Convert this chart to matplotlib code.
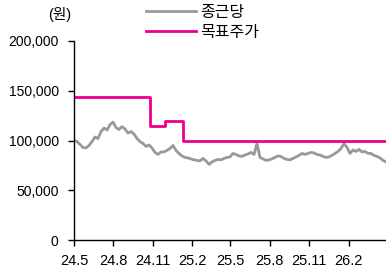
import pandas as pd
import matplotlib.pyplot as plt
import matplotlib.ticker as mticker

plt.rcParams['font.family'] = ['Liberation Sans', 'Noto Sans CJK KR', 'DejaVu Sans']

# --- data (weekly closes, in won) ---
dates = pd.date_range('2024-05-01', periods=105, freq='7D')
price = [
    100000, 99000, 96000, 93000, 92500, 95000, 99000, 103500, 102000, 109000,
    112500, 110500, 116000, 118500, 113000, 111000, 114000, 111500, 107500, 109000,
    106500, 102000, 99000, 97000, 94000, 95500, 92500, 88000, 86000, 88500,
    88500, 90000, 92000, 95000, 90000, 87000, 84500, 83000, 82500, 81500,
    80500, 80000, 79500, 82000, 79500, 76000, 78500, 80000, 81000, 80500,
    82000, 83000, 83500, 87000, 86000, 84500, 84000, 85500, 86500, 88000,
    86000, 97000, 83000, 81500, 80000, 80500, 81500, 83000, 84500, 84000,
    82000, 81000, 80500, 82000, 83500, 85000, 87000, 86000, 87000, 88000,
    87500, 86000, 85500, 84000, 83000, 83500, 85000, 87000, 89000, 92000,
    97000, 93000, 87000, 90500, 89000, 91000, 88500, 89000, 87000, 87000,
    85000, 84000, 82500, 80000, 78500,
]

target_dates = pd.to_datetime(['2024-05-01', '2024-10-25', '2024-11-29', '2025-01-10', '2026-04-29'])
target_price = [144000, 115000, 120000, 100000, 100000]

tick_dates = pd.to_datetime(['2024-05-01', '2024-08-01', '2024-11-01', '2025-02-01',
                             '2025-05-01', '2025-08-01', '2025-11-01', '2026-02-01'])
tick_labels = ['24.5', '24.8', '24.11', '25.2', '25.5', '25.8', '25.11', '26.2']

fig = plt.figure(figsize=(3.86, 2.74), dpi=100)
ax = fig.add_axes([74 / 386, 34 / 274, 312 / 386, 199 / 274])

ax.plot(dates, price, color='#999999', linewidth=2.0, label='종근당')
ax.plot(target_dates, target_price, color='#ec008c', linewidth=2.0,
        drawstyle='steps-post', label='목표주가')

ax.set_xlim(dates[0], dates[-1])
ax.set_ylim(0, 200000)
ax.set_yticks([0, 50000, 100000, 150000, 200000])
ax.yaxis.set_major_formatter(mticker.FuncFormatter(lambda v, p: f'{int(v):,}'))
ax.set_xticks(tick_dates)
ax.set_xticklabels(tick_labels)

for s in ['top', 'right']:
    ax.spines[s].set_visible(False)
for s in ['left', 'bottom']:
    ax.spines[s].set_color('black')
    ax.spines[s].set_linewidth(1.0)

ax.tick_params(axis='y', direction='out', length=4, width=1, pad=7, labelsize=10)
ax.tick_params(axis='x', direction='out', length=4, width=1, pad=6, labelsize=10.5)

fig.text(60 / 386, 1 - 15 / 274, '(원)', ha='center', va='center', fontsize=10.5)

fig.legend(loc='upper left', bbox_to_anchor=(146 / 386, 1 - 5 / 274), frameon=False,
           fontsize=11.5, handlelength=3.1, handletextpad=0.3, labelspacing=0.3,
           borderpad=0, borderaxespad=0)

fig.savefig('out.png', dpi=100)
